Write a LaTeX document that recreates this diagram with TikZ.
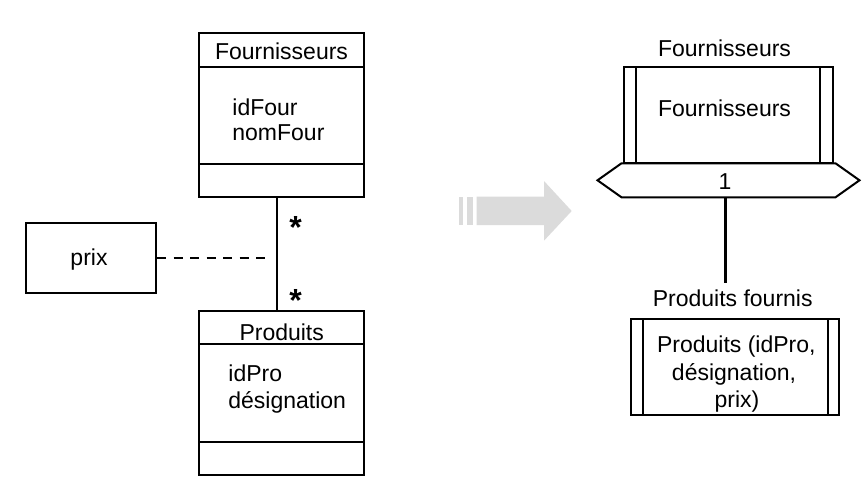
\documentclass[tikz,border=0pt]{standalone}
\usepackage{fontspec}
\setmainfont{Liberation Sans}
\begin{document}
\begin{tikzpicture}[x=0.5pt,y=-0.5pt,
  box/.style={draw, line width=1pt, rectangle, inner sep=0pt},
  txt/.style={font=\fontsize{11.5}{13.5}\selectfont, inner sep=0pt},
  star/.style={font=\fontsize{16}{18}\selectfont\bfseries, inner sep=0pt, anchor=base},
  conn/.style={line width=1pt},
  thickconn/.style={line width=1.4pt},
  dashconn/.style={line width=1pt, dash pattern=on 4.5pt off 3.75pt},
  arrowgray/.style={fill=black!14, draw=none}
]
\useasboundingbox (0,0) rectangle (868,498);

% ---- Left: UML classes ----
\node[box, minimum width=82.5pt, minimum height=82pt] (F) at (281.5,115.2) {};
\draw[conn] ([yshift=-17.15pt]F.north west) -- ([yshift=-17.15pt]F.north east);
\draw[conn] ([yshift=17pt]F.south west) -- ([yshift=17pt]F.south east);
\node[txt, anchor=base] (Fh) at (281.5,59.3) {Fournisseurs};
\node[txt, anchor=base west] (Fa1) at (232,115) {idFour};
\node[txt, anchor=base west] (Fa2) at (232,140.7) {nomFour};

\node[box, minimum width=82.5pt, minimum height=82.15pt] (P) at (281.5,392.85) {};
\draw[conn] ([yshift=-17.15pt]P.north west) -- ([yshift=-17.15pt]P.north east);
\draw[conn] ([yshift=17.15pt]P.south west) -- ([yshift=17.15pt]P.south east);
\node[txt, anchor=base] (Ph) at (281.7,340) {Produits};
\node[txt, anchor=base west] (Pa1) at (228,381.7) {idPro};
\node[txt, anchor=base west] (Pa2) at (228,408.3) {désignation};

\node[box, minimum width=65pt, minimum height=34.7pt] (prix) at (91,258) {};
\node[txt, anchor=base] (prixt) at (89,265) {prix};

\coordinate (lx) at (277,0);
\draw[conn] (F.south -| lx) -- (P.north -| lx);
\coordinate (dend) at (272,258);
\draw[dashconn] (prix.east) -- (dend);
\node[star] (s1) at (295.7,238.2) {*};
\node[star] (s2) at (295.7,311.5) {*};

% ---- Middle: grey arrow ----
\fill[arrowgray] (459.3,196.7) rectangle (463.3,225);
\fill[arrowgray] (466.7,196.7) rectangle (473.3,225);
\fill[arrowgray] (476.7,196.7) -- (544,196.7) -- (544,181) -- (571.7,211) -- (544,240.7) -- (544,225) -- (476.7,225) -- cycle;

% ---- Right: ER-like representation ----
\node[txt, anchor=base] (RFl) at (724.5,56.7) {Fournisseurs};
\node[box, minimum width=104.35pt, minimum height=48pt] (RF) at (728.35,115.3) {};
\draw[conn] ([xshift=6.65pt]RF.north west) -- ([xshift=6.65pt]RF.south west);
\draw[conn] ([xshift=-6.7pt]RF.north east) -- ([xshift=-6.7pt]RF.south east);
\node[txt, anchor=base] (RFt) at (724.5,116.7) {Fournisseurs};

\draw[line width=1pt, line join=miter, fill=white]
  (597.5,180.3) -- (621.5,163.3) -- (835.5,163.3) -- (859.5,180.3)
  -- (835.5,197.3) -- (621.5,197.3) -- cycle;
\node[txt, anchor=base] (card) at (725,189.3) {1};

\coordinate (hb) at (725.5,197.3);
\coordinate (pe) at (725.5,283);
\draw[thickconn] (hb) -- (pe);

\node[txt, anchor=base] (RPl) at (732.7,306.7) {Produits fournis};
\node[box, minimum width=104.3pt, minimum height=48pt] (RP) at (735,367) {};
\draw[conn] ([xshift=6.65pt]RP.north west) -- ([xshift=6.65pt]RP.south west);
\draw[conn] ([xshift=-6.3pt]RP.north east) -- ([xshift=-6.3pt]RP.south east);
\node[txt, anchor=base] (RPt1) at (736.3,352.7) {Produits (idPro,};
\node[txt, anchor=base] (RPt2) at (734,380) {désignation,};
\node[txt, anchor=base] (RPt3) at (737,407.3) {prix)};
\end{tikzpicture}
\end{document}
